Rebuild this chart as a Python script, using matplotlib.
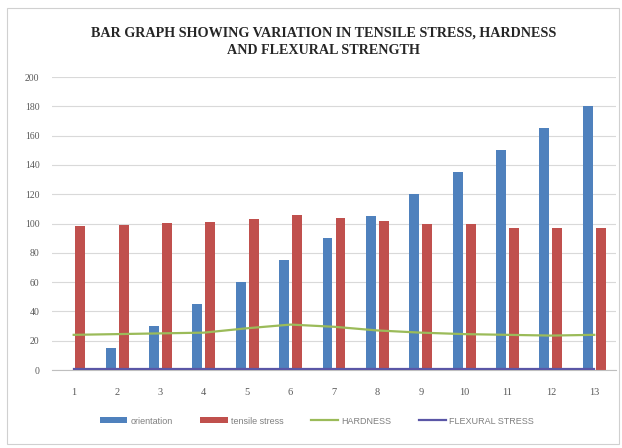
import matplotlib
matplotlib.use("Agg")
import matplotlib.pyplot as plt
import numpy as np
from matplotlib.patches import Rectangle

# Data
categories = ["1", "2", "3", "4", "5", "6", "7", "8", "9", "10", "11", "12", "13"]
orientation = [0, 15, 30, 45, 60, 75, 90, 105, 120, 135, 150, 165, 180]
tensile_stress = [98, 99, 100.5, 101, 103, 106, 103.5, 102, 100, 100, 97, 97, 97]
hardness = [24, 24.5, 25, 25.5, 28.5, 31, 29.5, 27, 25.5, 24.5, 24, 23.5, 24]
flexural_stress = [0.4, 0.4, 0.4, 0.4, 0.4, 0.4, 0.4, 0.4, 0.4, 0.4, 0.4, 0.4, 0.4]
y_ticks = [0, 20, 40, 60, 80, 100, 120, 140, 160, 180, 200]

BLUE = "#4F81BD"
RED = "#C0504D"
GREEN = "#9BBB59"
NAVY = "#5A56A6"
GRID = "#D9D9D9"
TEXT = "#595959"

serif = ["Liberation Serif", "DejaVu Serif"]
sans = ["Liberation Sans Narrow", "Liberation Sans", "DejaVu Sans"]

fig = plt.figure(figsize=(6.22, 4.48), dpi=100)
fig.patch.set_facecolor("white")

# outer chart frame
fig.add_artist(Rectangle((7 / 622, 4 / 448), 612 / 622, 436 / 448,
                         transform=fig.transFigure, fill=False,
                         edgecolor="#D0D0D0", linewidth=0.8))

ax = fig.add_axes([52 / 622, 1 - 370 / 448, (616 - 52) / 622, (370 - 77) / 448])

x = np.arange(len(categories))
w = 0.23
off = 0.15
b1 = ax.bar(x - off, orientation, width=w, color=BLUE, label="orientation", zorder=2)
b2 = ax.bar(x + off, tensile_stress, width=w, color=RED, label="tensile stress", zorder=2)
l1, = ax.plot(x, hardness, color=GREEN, linewidth=1.6, label="HARDNESS", zorder=3)
l2, = ax.plot(x, flexural_stress, color=NAVY, linewidth=1.6, label="FLEXURAL STRESS", zorder=3)

ax.set_xlim(-0.5, len(categories) - 0.5)
ax.set_ylim(0, 200)
ax.set_yticks(y_ticks)
ax.set_yticklabels([str(t) for t in y_ticks], family=serif, fontsize=7, color=TEXT)
ax.set_xticks(x)
ax.set_xticklabels(categories, family=serif, fontsize=7.5, color=TEXT)
ax.tick_params(axis="both", length=0)
ax.tick_params(axis="y", pad=9)
ax.tick_params(axis="x", pad=13)
ax.yaxis.grid(True, color=GRID, linewidth=0.8, zorder=0)
ax.set_axisbelow(True)
for s in ["top", "right", "left"]:
    ax.spines[s].set_visible(False)
ax.spines["bottom"].set_color("#BFBFBF")

fig.text(0.52, 1 - 42 / 448,
         "BAR GRAPH SHOWING VARIATION IN TENSILE STRESS, HARDNESS\nAND FLEXURAL STRENGTH",
         ha="center", va="center", family=serif, fontweight="bold",
         fontsize=10.2, linespacing=1.4, color="#262626")

leg = fig.legend([b1, b2, l1, l2],
                 ["orientation", "tensile stress", "HARDNESS", "FLEXURAL STRESS"],
                 loc="center", bbox_to_anchor=(0.51, 1 - 421 / 448), ncol=4,
                 frameon=False, prop={"family": sans, "size": 6.5},
                 handlelength=3.0, handleheight=0.6, columnspacing=3.0,
                 handletextpad=0.4)
for t in leg.get_texts():
    t.set_color("#7F7F7F")

fig.savefig("out.png", dpi=100, facecolor="white")
